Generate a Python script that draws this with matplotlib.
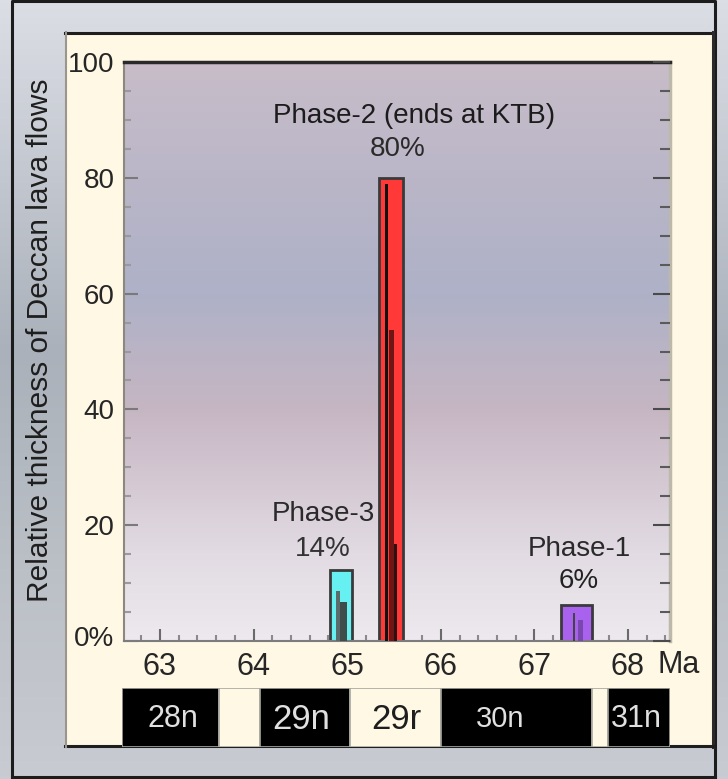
import numpy as np
import matplotlib
matplotlib.use("Agg")
import matplotlib.pyplot as plt
from matplotlib.colors import LinearSegmentedColormap
from matplotlib.patches import Rectangle
from matplotlib.ticker import MultipleLocator
import matplotlib.transforms as mtransforms

plt.rcParams["font.family"] = ["Liberation Sans", "DejaVu Sans"]

# phases (age in Ma, relative thickness in %)
phase_names = ["Phase-3", "Phase-2 (ends at KTB)", "Phase-1"]
phase_pct = ["14%", "80%", "6%"]
phase_age = [64.939, 65.468, 67.448]
phase_width = [0.235, 0.25, 0.326]
phase_height = [12.3, 80.0, 6.2]
phase_color = ["#66f0f2", "#ff3838", "#a962ee"]

# darker traces drawn inside the bars
trace_left = [64.880, 64.923, 65.404, 65.447, 65.500, 67.412, 67.466]
trace_width = [0.043, 0.075, 0.032, 0.053, 0.032, 0.022, 0.053]
trace_height = [8.6, 6.7, 79.0, 53.7, 16.8, 4.8, 3.6]
trace_color = ["#5b6b6b", "#3f4c4c", "#111111", "#6e1515", "#2e1010", "#444444", "#7a47b0"]

# magnetic polarity chrons
chron_bounds = [62.594, 63.630, 64.068, 65.030, 66.002, 67.615, 67.781, 68.449]
chron_normal = [1, 0, 1, 0, 1, 0, 1]
chron_names = ["28n", "29n", "29r", "30n", "31n"]
chron_name_age = [63.139, 64.506, 65.521, 66.632, 68.085]
chron_name_size = [22, 25, 25, 21, 22]

x_ticks = [63, 64, 65, 66, 67, 68]
y_ticks = [0, 20, 40, 60, 80, 100]
y_tick_labels = ["0%", "20", "40", "60", "80", "100"]

W, H = 728, 779
PX_PER_MA = 93.6

def ma(px):
    return 63 + (px - 160) / PX_PER_MA

fig = plt.figure(figsize=(W / 100, H / 100), dpi=100)

# outer grey background and frames
bg = fig.add_axes([0, 0, 1, 1], zorder=-10)
bg.set_xlim(0, W)
bg.set_ylim(H, 0)
bg.axis("off")
grey = LinearSegmentedColormap.from_list(
    "grey", [(0, "#dcdee5"), (0.45, "#aab1ba"), (0.75, "#bcc1c7"), (1, "#c8cbd1")])
bg.imshow(np.linspace(0, 1, 256).reshape(-1, 1), extent=[0, W, H, 0],
          aspect="auto", cmap=grey)
bg.plot([12, 12, 715, 715], [778, 1, 1, 778], color="#1c1c1c", lw=2.2)
bg.plot([12, 715], [777, 777], color="#1c1c1c", lw=2.2)
bg.add_patch(Rectangle((65, 32), 648, 715, fc="#fef8e5", ec="none"))
bg.plot([65, 713], [33, 33], color="#1e1e1e", lw=2.2)
bg.plot([713, 713], [32, 747], color="#2a2a2a", lw=2.2)
bg.plot([65, 713], [746, 746], color="#1e1e1e", lw=2.2)
bg.plot([65.5, 65.5], [32, 747], color="#9a968e", lw=1.5)

fig.text(40 / W, 1 - 340 / H, "Relative thickness of Deccan lava flows",
         rotation=90, ha="center", va="center", fontsize=21.5, color="#1e1e1e")

# main plot
ax = fig.add_axes([124 / W, 1 - 641 / H, 546 / W, 579 / H])
ax.set_xlim(ma(124), ma(670))
ax.set_ylim(0, 100)
plot_cmap = LinearSegmentedColormap.from_list(
    "plot", [(0, "#ede9ee"), (0.15, "#e2dbe3"), (0.4, "#c6b6c3"),
             (0.6, "#aeb1c7"), (0.8, "#bab6c8"), (1, "#c8bdc9")])
ax.imshow(np.linspace(0, 1, 256).reshape(-1, 1), extent=[0, 1, 0, 1],
          transform=ax.transAxes, origin="lower", aspect="auto",
          cmap=plot_cmap, zorder=0)

ax.bar(phase_age, phase_height, width=phase_width, color=phase_color,
       edgecolor="#3a3a3a", linewidth=2, zorder=2)
ax.bar(trace_left, trace_height, width=trace_width, align="edge",
       color=trace_color, linewidth=0, zorder=3)

# labels above bars
ax.text(ma(414), 90.7, phase_names[1], ha="center", va="center", fontsize=20, color="#1c1c1c")
ax.text(ma(398), 85.0, phase_pct[1], ha="center", va="center", fontsize=20, color="#2a2a2a")
ax.text(ma(323), 21.9, phase_names[0], ha="center", va="center", fontsize=20, color="#2a2a2a")
ax.text(ma(323), 15.9, phase_pct[0], ha="center", va="center", fontsize=20, color="#333333")
ax.text(ma(579), 15.9, phase_names[2], ha="center", va="center", fontsize=20, color="#2a2a2a")
ax.text(ma(579), 10.4, phase_pct[2], ha="center", va="center", fontsize=20, color="#222222")

ax.set_xticks(x_ticks)
ax.xaxis.set_minor_locator(MultipleLocator(0.2))
ax.set_yticks(y_ticks, y_tick_labels)
ax.yaxis.set_minor_locator(MultipleLocator(5))
ax.tick_params(axis="x", which="major", direction="in", length=9, width=1.5,
               color="#6a6a6a", pad=8, labelsize=22, labelcolor="#262626")
ax.tick_params(axis="x", which="minor", direction="in", length=4.5, width=1.5,
               color="#8a8a8a")
ax.tick_params(axis="y", which="major", direction="in", length=10, width=1.5,
               color="#7a7a7a", pad=7, labelsize=20, labelcolor="#262626")
ax.tick_params(axis="y", which="minor", direction="in", length=5, width=1.5,
               color="#9a9a9a")
# lift the 0% label a little, as in the original
zero_lbl = ax.get_yticklabels()[0]
zero_lbl.set_transform(zero_lbl.get_transform() +
                       mtransforms.ScaledTranslation(0, 0.05, fig.dpi_scale_trans))
ax.text(ma(678.5), -0.041, "Ma", transform=mtransforms.blended_transform_factory(
    ax.transData, ax.transAxes), ha="center", va="center", fontsize=22,
    color="#262626", clip_on=False)

ax.spines["top"].set_color("#2a2a2a")
ax.spines["top"].set_linewidth(2.5)
ax.spines["left"].set_color("#8c8880")
ax.spines["left"].set_linewidth(1.5)
ax.spines["bottom"].set_color("#7c7c7c")
ax.spines["bottom"].set_linewidth(1.5)
ax.spines["right"].set_color("#bcb8ac")
ax.spines["right"].set_linewidth(2.5)

axr = ax.twinx()
axr.set_ylim(0, 100)
axr.set_yticks(y_ticks)
axr.yaxis.set_minor_locator(MultipleLocator(5))
axr.tick_params(axis="y", which="major", direction="in", length=12, width=1.5,
                color="#4a4a4a", labelright=False)
axr.tick_params(axis="y", which="minor", direction="in", length=7, width=1.5,
                color="#5a5a5a")
for s in axr.spines.values():
    s.set_visible(False)

# polarity chron bar
axc = fig.add_axes([122 / W, 1 - 747 / H, 548 / W, 59 / H])
axc.set_xlim(ma(122), ma(670))
axc.set_ylim(0, 1)
axc.axis("off")
starts = chron_bounds[:-1]
widths = np.diff(chron_bounds)
colors = ["#000000" if n else "#fef8e5" for n in chron_normal]
axc.bar(starts, [1] * len(starts), width=widths, align="edge", color=colors,
        edgecolor="#a8a8a0", linewidth=1.2)
for name, age, size in zip(chron_names, chron_name_age, chron_name_size):
    inside = [n for a, b, n in zip(chron_bounds[:-1], chron_bounds[1:], chron_normal) if a <= age < b][0]
    axc.text(age, 0.47, name, ha="center", va="center", fontsize=size,
             color="#e0e0e0" if inside else "#1e1e1e")

fig.savefig("out.png", dpi=100)
